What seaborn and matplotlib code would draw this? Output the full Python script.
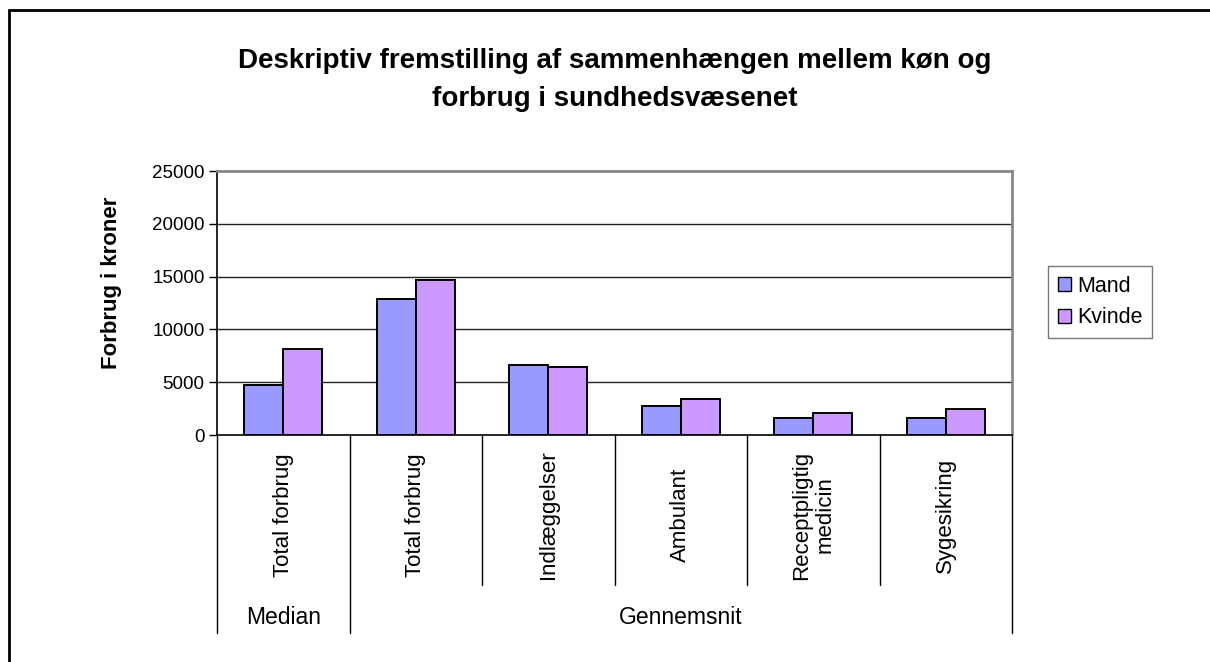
import pandas as pd
import matplotlib.pyplot as plt
import matplotlib.transforms as mtransforms
from matplotlib.lines import Line2D
import seaborn as sns

sns.set_style("white")
plt.rcParams['font.family'] = ['Liberation Sans', 'DejaVu Sans']
plt.rcParams['text.color'] = 'black'
plt.rcParams['axes.labelcolor'] = 'black'
plt.rcParams['xtick.color'] = 'black'
plt.rcParams['ytick.color'] = 'black'

# data
categories = ["Total forbrug", "Total forbrug", "Indlæggelser", "Ambulant",
              "Receptpligtig\nmedicin", "Sygesikring"]
groups = ["Median", "Gennemsnit"]
group_sizes = [1, 5]
mand = [4750, 12900, 6630, 2780, 1580, 1580]
kvinde = [8150, 14700, 6470, 3440, 2110, 2430]
series = ["Mand", "Kvinde"]
colors = ["#9999FF", "#CC99FF"]
yticks = [0, 5000, 10000, 15000, 20000, 25000]

keys = [f"{i}" for i in range(len(categories))]
df = pd.DataFrame({
    "key": keys * 2,
    "value": mand + kvinde,
    "sex": [series[0]] * len(mand) + [series[1]] * len(kvinde),
})

W, H = 1210, 662
fig = plt.figure(figsize=(W / 100, H / 100), dpi=100)
ax = fig.add_axes([217 / W, 1 - 435 / H, (1012 - 217) / W, (435 - 171) / H])

sns.barplot(data=df, x="key", y="value", hue="sex", order=keys,
            hue_order=series, palette=colors, width=0.59, errorbar=None,
            edgecolor="black", linewidth=1.4, saturation=1, ax=ax, zorder=3)

ax.set_ylim(0, 25000)
ax.set_xlim(-0.5, len(categories) - 0.5)
ax.set_yticks(yticks)
ax.set_yticklabels([str(t) for t in yticks], fontsize=13.5)
ax.tick_params(axis="y", direction="out", length=6, width=1, color="black", pad=3, left=True)
ax.set_xticks([])
ax.set_xlabel("")
ax.set_ylabel("Forbrug i kroner", fontsize=16, fontweight="bold")
ax.yaxis.set_label_coords((122 - 217) / (1012 - 217), (435 - 283) / (435 - 171))
for t in yticks[1:-1]:
    ax.axhline(t, color="#222222", lw=1, zorder=1)

for side in ["left", "bottom"]:
    ax.spines[side].set_color("black")
    ax.spines[side].set_linewidth(1.2)
for side in ["top", "right"]:
    ax.spines[side].set_color("#888888")
    ax.spines[side].set_linewidth(2)

# two-level category axis
trans = mtransforms.blended_transform_factory(ax.transData, ax.transAxes)
inner_bottom = (435 - 585) / (435 - 171)
outer_bottom = (435 - 633) / (435 - 171)
boundaries = [0]
for s in group_sizes:
    boundaries.append(boundaries[-1] + s)
for i in range(len(categories) + 1):
    y_end = outer_bottom if i in boundaries else inner_bottom
    ax.plot([i - 0.5, i - 0.5], [0, y_end], color="black", lw=1,
            transform=trans, clip_on=False)
for i, cat in enumerate(categories):
    ax.text(i, (435 - 515) / (435 - 171), cat, rotation=90, ha="center",
            va="center", multialignment="center", fontsize=16, transform=trans)
for g, start, size in zip(groups, boundaries[:-1], group_sizes):
    ax.text(start + (size - 1) / 2, (435 - 617) / (435 - 171), g, ha="center",
            va="center", fontsize=16.5, transform=trans)

leg = ax.legend(loc="center left", bbox_to_anchor=(1048 / W, 1 - 302 / H),
                bbox_transform=fig.transFigure, borderaxespad=0, fontsize=15.5,
                fancybox=False, handlelength=0.6, handleheight=0.6,
                handletextpad=0.3, labelspacing=0.5, borderpad=0.45, title=None)
leg.get_frame().set_edgecolor("#555555")
leg.get_frame().set_linewidth(1)
for h in leg.legend_handles:
    h.set_edgecolor("black")
    h.set_linewidth(1)

fig.text(615 / W, 1 - 80 / H,
         "Deskriptiv fremstilling af sammenhængen mellem køn og\nforbrug i sundhedsvæsenet",
         ha="center", va="center", fontsize=20, fontweight="bold", linespacing=1.65)

# outer frame (top and left edges visible)
fig.add_artist(Line2D([9 / W, 9 / W], [0, 1 - 10 / H], color="black", lw=2))
fig.add_artist(Line2D([9 / W, 1], [1 - 10 / H, 1 - 10 / H], color="black", lw=2))

fig.savefig("out.png", dpi=100)
